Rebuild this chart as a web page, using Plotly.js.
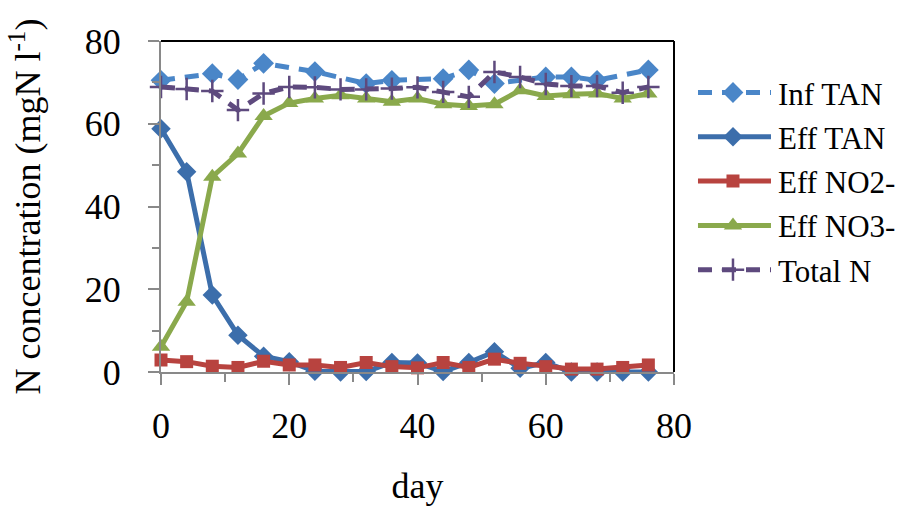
<!DOCTYPE html>
<html>
<head>
<meta charset="utf-8">
<script src="https://cdn.plot.ly/plotly-3.0.1.min.js"></script>
<style>html,body{margin:0;padding:0;background:#fff;}#chart{width:908px;height:513px;}</style>
</head>
<body>
<div id="chart"></div>
<script>
// Data
const infDays = [0, 8, 12, 16, 24, 32, 36, 44, 48, 52, 60, 64, 68, 76];
const infTAN  = [70.5, 72.1, 70.7, 74.6, 72.6, 69.7, 70.5, 70.9, 73.0, 69.7, 71.3, 71.3, 70.5, 73.0];

const days    = [0, 4, 8, 12, 16, 20, 24, 28, 32, 36, 40, 44, 48, 52, 56, 60, 64, 68, 72, 76];
const effTAN  = [58.8, 48.4, 18.6, 8.9, 3.8, 2.5, 0.2, 0.0, 0.1, 2.3, 2.2, 0.1, 2.3, 4.9, 0.9, 2.3, 0.0, 0.0, 0.0, 0.0];
const effNO2  = [2.9, 2.5, 1.4, 1.1, 2.6, 1.7, 1.7, 1.1, 2.3, 1.3, 1.0, 2.3, 1.1, 3.1, 2.1, 1.3, 0.7, 0.7, 1.1, 1.7];
const effNO3  = [6.1, 17.0, 47.2, 52.8, 61.9, 65.0, 66.1, 66.9, 66.1, 65.3, 66.1, 64.7, 64.3, 64.7, 68.1, 66.7, 67.1, 67.3, 66.1, 67.3];
const totalN  = [68.9, 68.4, 67.9, 63.3, 67.3, 68.9, 68.8, 68.3, 68.3, 68.5, 68.8, 67.7, 66.5, 72.5, 71.3, 69.6, 69.1, 69.1, 67.5, 68.9];

const names   = ['Inf TAN', 'Eff TAN', 'Eff NO2-', 'Eff NO3-', 'Total N'];
const xTicks  = [0, 20, 40, 60, 80];
const yTicks  = [0, 20, 40, 60, 80];

const FONT = '"Liberation Serif", "Times New Roman", serif';
const cInf = '#4A86C8', cEff = '#3C6EAB', cNO2 = '#B8433F', cNO3 = '#8AA94C', cTot = '#5E4A7E';

const traces = [
  {x: infDays, y: infTAN, name: names[0], legendgroup: 'a', mode: 'lines+markers', cliponaxis: false,
   line: {color: cInf, width: 5, dash: '14px,10px'}, marker: {symbol: 'diamond', size: 16, color: cInf}},
  {x: days, y: effTAN, name: names[1], legendgroup: 'b', mode: 'lines+markers', cliponaxis: false,
   line: {color: cEff, width: 5}, marker: {symbol: 'diamond', size: 15, color: cEff}},
  {x: days, y: effNO2, name: names[2], legendgroup: 'c', mode: 'lines+markers', cliponaxis: false,
   line: {color: cNO2, width: 5}, marker: {symbol: 'square', size: 13, color: cNO2}},
  {x: days, y: effNO3, name: names[3], legendgroup: 'd', mode: 'lines+markers', cliponaxis: false,
   line: {color: cNO3, width: 5}, marker: {symbol: 'triangle-up', size: 16, color: cNO3}},
  {x: days, y: totalN, name: names[4], legendgroup: 'e', mode: 'lines+markers', cliponaxis: false,
   line: {color: cTot, width: 5, dash: '14px,10px'}, marker: {symbol: 'cross-thin', size: 16, line: {color: cTot, width: 2.5}}}
];

const layout = {
  width: 908, height: 513,
  margin: {l: 161, r: 234, t: 41, b: 141, autoexpand: false},
  paper_bgcolor: '#fff', plot_bgcolor: '#fff',
  font: {family: FONT, color: '#000'},
  showlegend: true,
  legend: {x: 1.037, xanchor: 'left', y: 0.925, yanchor: 'top', font: {family: FONT, size: 31, color: '#000'},
           tracegroupgap: 1, itemwidth: 75, bgcolor: 'rgba(0,0,0,0)'},
  xaxis: {range: [0, 80], tickvals: xTicks, ticktext: xTicks.map(String), showgrid: false, zeroline: false,
          showline: true, linecolor: '#898989', linewidth: 2, ticks: 'outside', ticklen: 11, tickwidth: 2, tickcolor: '#898989',
          minor: {tickvals: [10, 30, 50, 70], ticks: 'outside', ticklen: 8, tickwidth: 2, tickcolor: '#898989'},
          ticklabelstandoff: 10,
          tickfont: {family: FONT, size: 36, color: '#000'},
          title: {text: 'day', font: {family: FONT, size: 36, color: '#000'}, standoff: 28}},
  yaxis: {range: [0, 80], tickvals: yTicks, ticktext: yTicks.map(String), showgrid: false, zeroline: false,
          showline: true, linecolor: '#898989', linewidth: 2, ticks: 'outside', ticklen: 11, tickwidth: 2, tickcolor: '#898989',
          minor: {tickvals: [10, 30, 50, 70], ticks: 'outside', ticklen: 7, tickwidth: 2, tickcolor: '#898989'},
          ticklabelstandoff: 20,
          tickfont: {family: FONT, size: 36, color: '#000'},
          title: {text: 'N concentration (mgN l<sup>-1</sup>)', font: {family: FONT, size: 36, color: '#000'}, standoff: 33}},
  shapes: [
    {type: 'line', xref: 'paper', yref: 'paper', x0: 0, x1: 1, y0: 1, y1: 1, line: {color: '#000', width: 2}},
    {type: 'line', xref: 'paper', yref: 'paper', x0: 1, x1: 1, y0: 0, y1: 1, line: {color: '#000', width: 2}}
  ]
};

Plotly.newPlot('chart', traces, layout, {displayModeBar: false, staticPlot: true}).then(function (gd) {
  // lengthen legend sample lines to match the reference's legend keys
  gd.querySelectorAll('.legend .traces').forEach(function (t) {
    t.querySelectorAll('.legendlines path').forEach(function (p) { p.setAttribute('d', 'M5,0h73'); });
    t.querySelectorAll('.legendpoints path').forEach(function (p) { p.setAttribute('transform', 'translate(40,0)'); });
  });
});
</script>
</body>
</html>
